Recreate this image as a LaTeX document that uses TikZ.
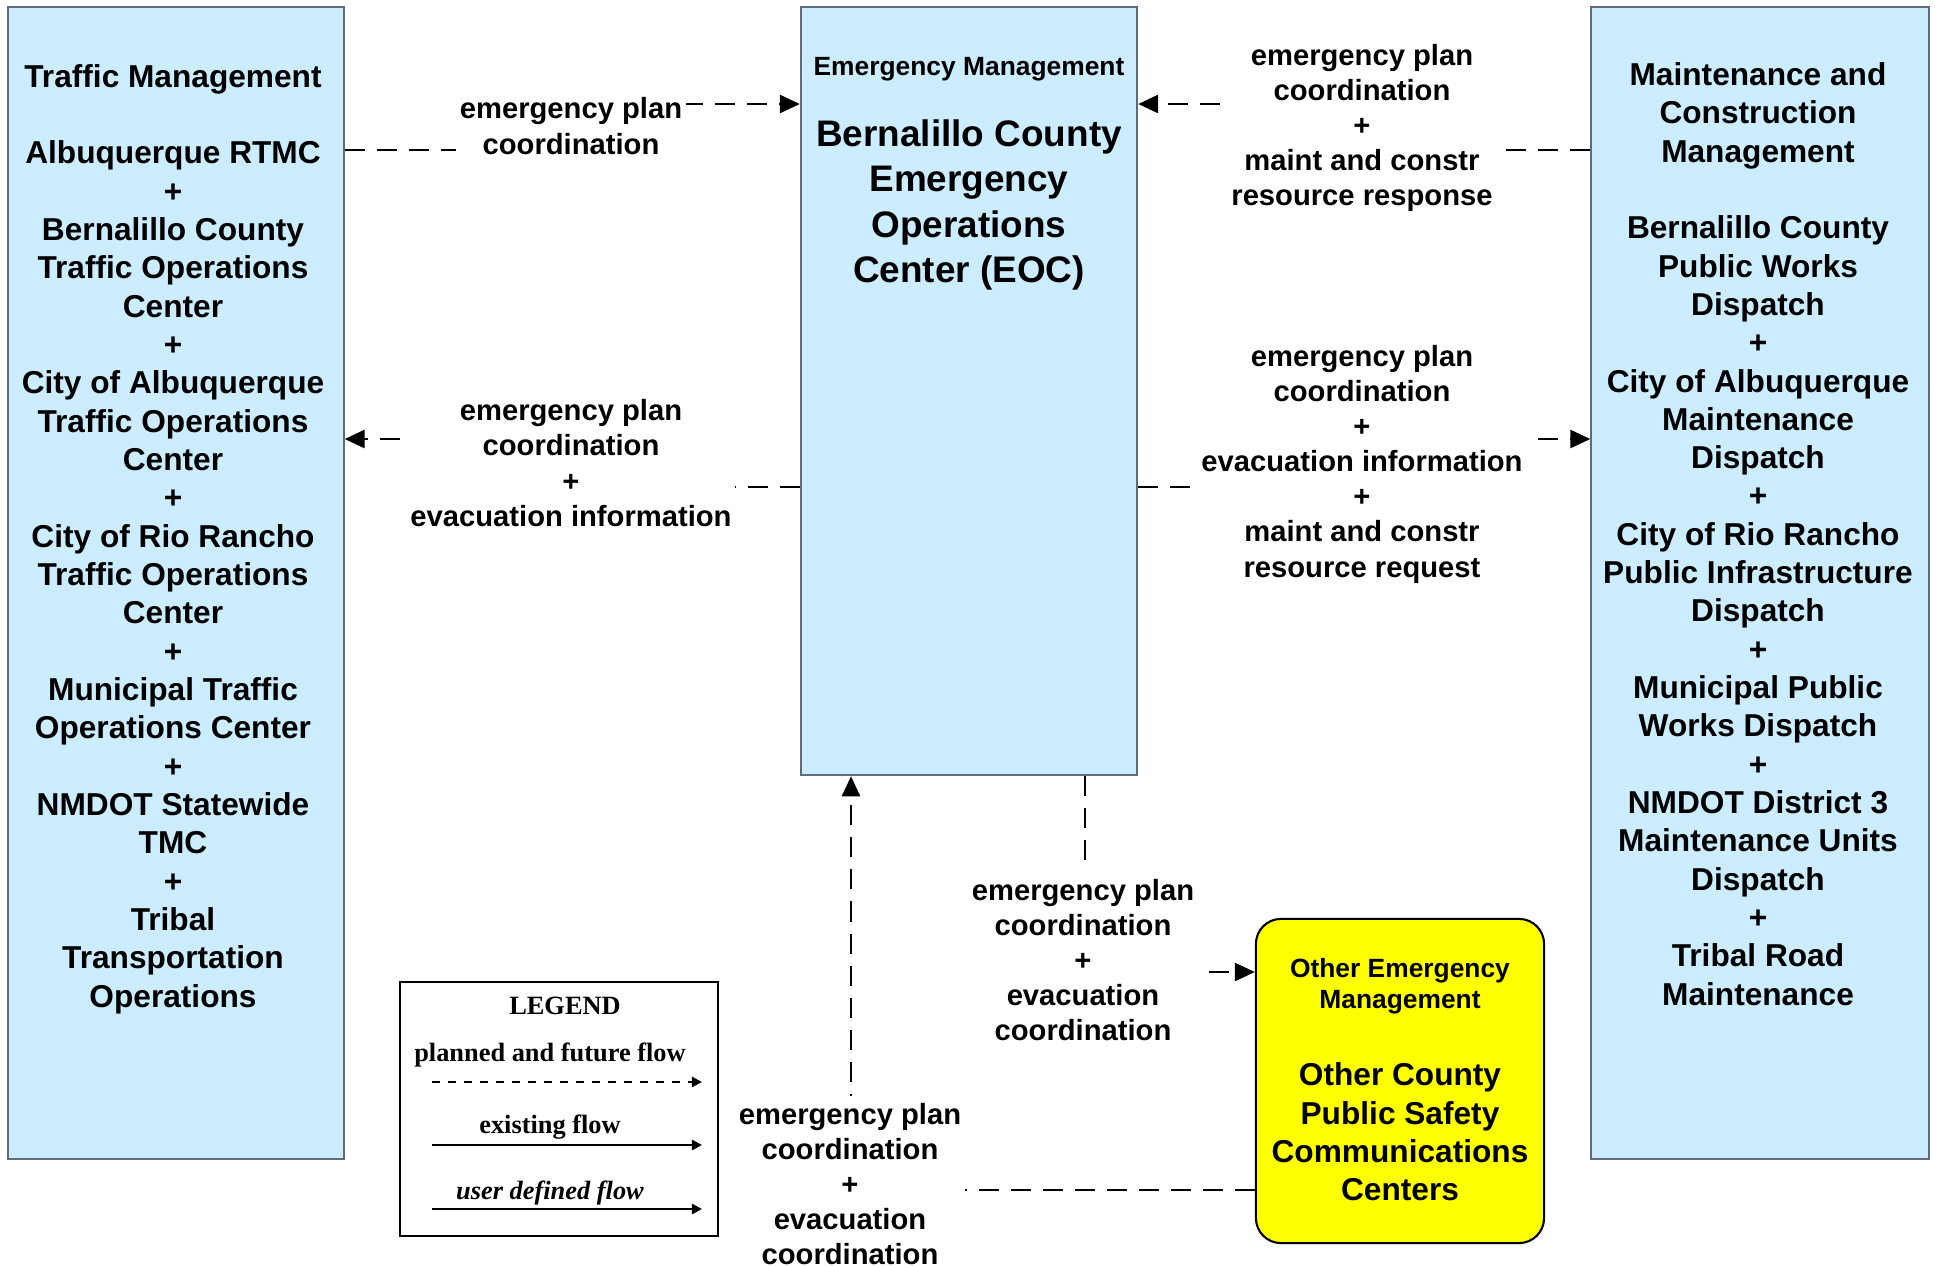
\documentclass[tikz,border=0pt]{standalone}
\usepackage{fontspec}
\setmainfont{Liberation Sans}
\newfontfamily\legfont{Liberation Serif}
\usepackage{tikz}
\usetikzlibrary{arrows.meta,positioning,backgrounds}
\definecolor{boxblue}{HTML}{CCECFF}
\definecolor{boxline}{HTML}{5F6B78}
\definecolor{extyellow}{HTML}{FFFF00}
\tikzset{
  archbox/.style={draw=boxline,fill=boxblue,line width=0.6pt,inner sep=0pt},
  boxtext/.style={font=\bfseries\fontsize{9}{10.9}\selectfont,align=center,inner sep=0pt},
  smalltitle/.style={font=\bfseries\fontsize{7.5}{8.8}\selectfont,align=center,inner sep=0pt},
  flowlab/.style={fill=white,inner xsep=1pt,inner ysep=2pt,font=\bfseries\fontsize{8.3}{10}\selectfont,align=center},
  planned/.style={draw,line width=0.75pt,dash pattern=on 0.2cm off 0.12cm,-{Triangle[length=0.2cm,width=0.18cm]}},
  legtext/.style={font=\legfont\bfseries\fontsize{7.5}{9}\selectfont,inner sep=0pt},
  legdash/.style={line width=0.7pt,dash pattern=on 0.08cm off 0.08cm,-{Triangle[length=0.1cm,width=0.1cm]}},
  legsolid/.style={line width=0.7pt,-{Triangle[length=0.1cm,width=0.1cm]}},
}
\begin{document}
\begin{tikzpicture}[x=0.01cm,y=-0.01cm]
  \useasboundingbox (0,0) rectangle (1935,1266);
  % boxes
  \node[archbox,minimum width=3.35cm,minimum height=11.52cm] (tm) at (176,583) {};
  \node[archbox,minimum width=3.36cm,minimum height=7.68cm] (eoc) at (969,391) {};
  \node[archbox,minimum width=3.37cm,minimum height=11.52cm] (mcm) at (1760,583) {};
  \node[draw=black,fill=extyellow,line width=0.6pt,rounded corners=0.25cm,inner sep=0pt,minimum width=2.88cm,minimum height=3.24cm] (oem) at (1400,1081) {};
  % box texts
  \node[boxtext] (tmtext) at (173,539) {Traffic Management\\[10.9pt]Albuquerque RTMC\\+\\Bernalillo County\\Traffic Operations\\Center\\+\\City of Albuquerque\\Traffic Operations\\Center\\+\\City of Rio Rancho\\Traffic Operations\\Center\\+\\Municipal Traffic\\Operations Center\\+\\NMDOT Statewide\\TMC\\+\\Tribal\\Transportation\\Operations};
  \node[boxtext] (mcmtext) at (1758,534) {Maintenance and\\Construction\\Management\\[10.9pt]Bernalillo County\\Public Works\\Dispatch\\+\\City of Albuquerque\\Maintenance\\Dispatch\\+\\City of Rio Rancho\\Public Infrastructure\\Dispatch\\+\\Municipal Public\\Works Dispatch\\+\\NMDOT District 3\\Maintenance Units\\Dispatch\\+\\Tribal Road\\Maintenance};
  \node[smalltitle] (eoctitle) at (969,69) {Emergency Management};
  \node[boxtext,font=\bfseries\fontsize{10.5}{12.9}\selectfont] (eoctext) at (969,205) {Bernalillo County\\Emergency\\Operations\\Center (EOC)};
  \node[smalltitle] (oemtitle) at (1400,986) {Other Emergency\\Management};
  \node[boxtext] (oemtext) at (1400,1132) {Other County\\Public Safety\\Communications\\Centers};
  % flow labels
  \node[flowlab] (f1) at (571,126) {emergency plan\\coordination};
  \node[flowlab] (f2) at (1362,128) {emergency plan\\coordination\\+\\maint and constr\\resource response};
  \node[flowlab] (f3) at (571,463) {emergency plan\\coordination\\+\\evacuation information};
  \node[flowlab] (f4) at (1362,464) {emergency plan\\coordination\\+\\evacuation information\\+\\maint and constr\\resource request};
  \node[flowlab] (f5) at (1083,960) {emergency plan\\coordination\\+\\evacuation\\coordination};
  \node[flowlab] (f6) at (850,1184) {emergency plan\\coordination\\+\\evacuation\\coordination};
  % flows
  \begin{scope}[on background layer]
    \draw[planned] (tm.east |- 0,150) -| (f1.center) |- (eoc.west |- 0,104);
    \draw[planned] (mcm.west |- 0,150) -| (f2.center) |- (eoc.east |- 0,104);
    \draw[planned] (eoc.west |- 0,487) -| (f3.center) |- (tm.east |- 0,439);
    \draw[planned] (eoc.east |- 0,487) -| (f4.center) |- (mcm.west |- 0,439);
    \draw[planned] (eoc.south -| 1085,0) -- (1085,972) -- (oem.west |- 0,972);
    \draw[planned] (oem.west |- 0,1190) -| (eoc.south -| 851,0);
  \end{scope}
  % legend
  \node[draw=black,line width=0.6pt,inner sep=0pt,minimum width=3.18cm,minimum height=2.54cm] (legend) at (559,1109) {};
  \node[legtext] (legtitle) at (565,1006) {LEGEND};
  \foreach \txt/\ty/\ay/\sty [count=\i] in {{planned and future flow}/1055/1082/legdash,{existing flow}/1127/1145/legsolid,{\itshape user defined flow}/1193/1209/legsolid}{
    \node[legtext] (leg\i) at (550,\ty) {\txt};
    \coordinate (la\i) at (432,\ay);
    \coordinate (lb\i) at (702,\ay);
    \draw[\sty] (la\i) -- (lb\i);}
\end{tikzpicture}
\end{document}
